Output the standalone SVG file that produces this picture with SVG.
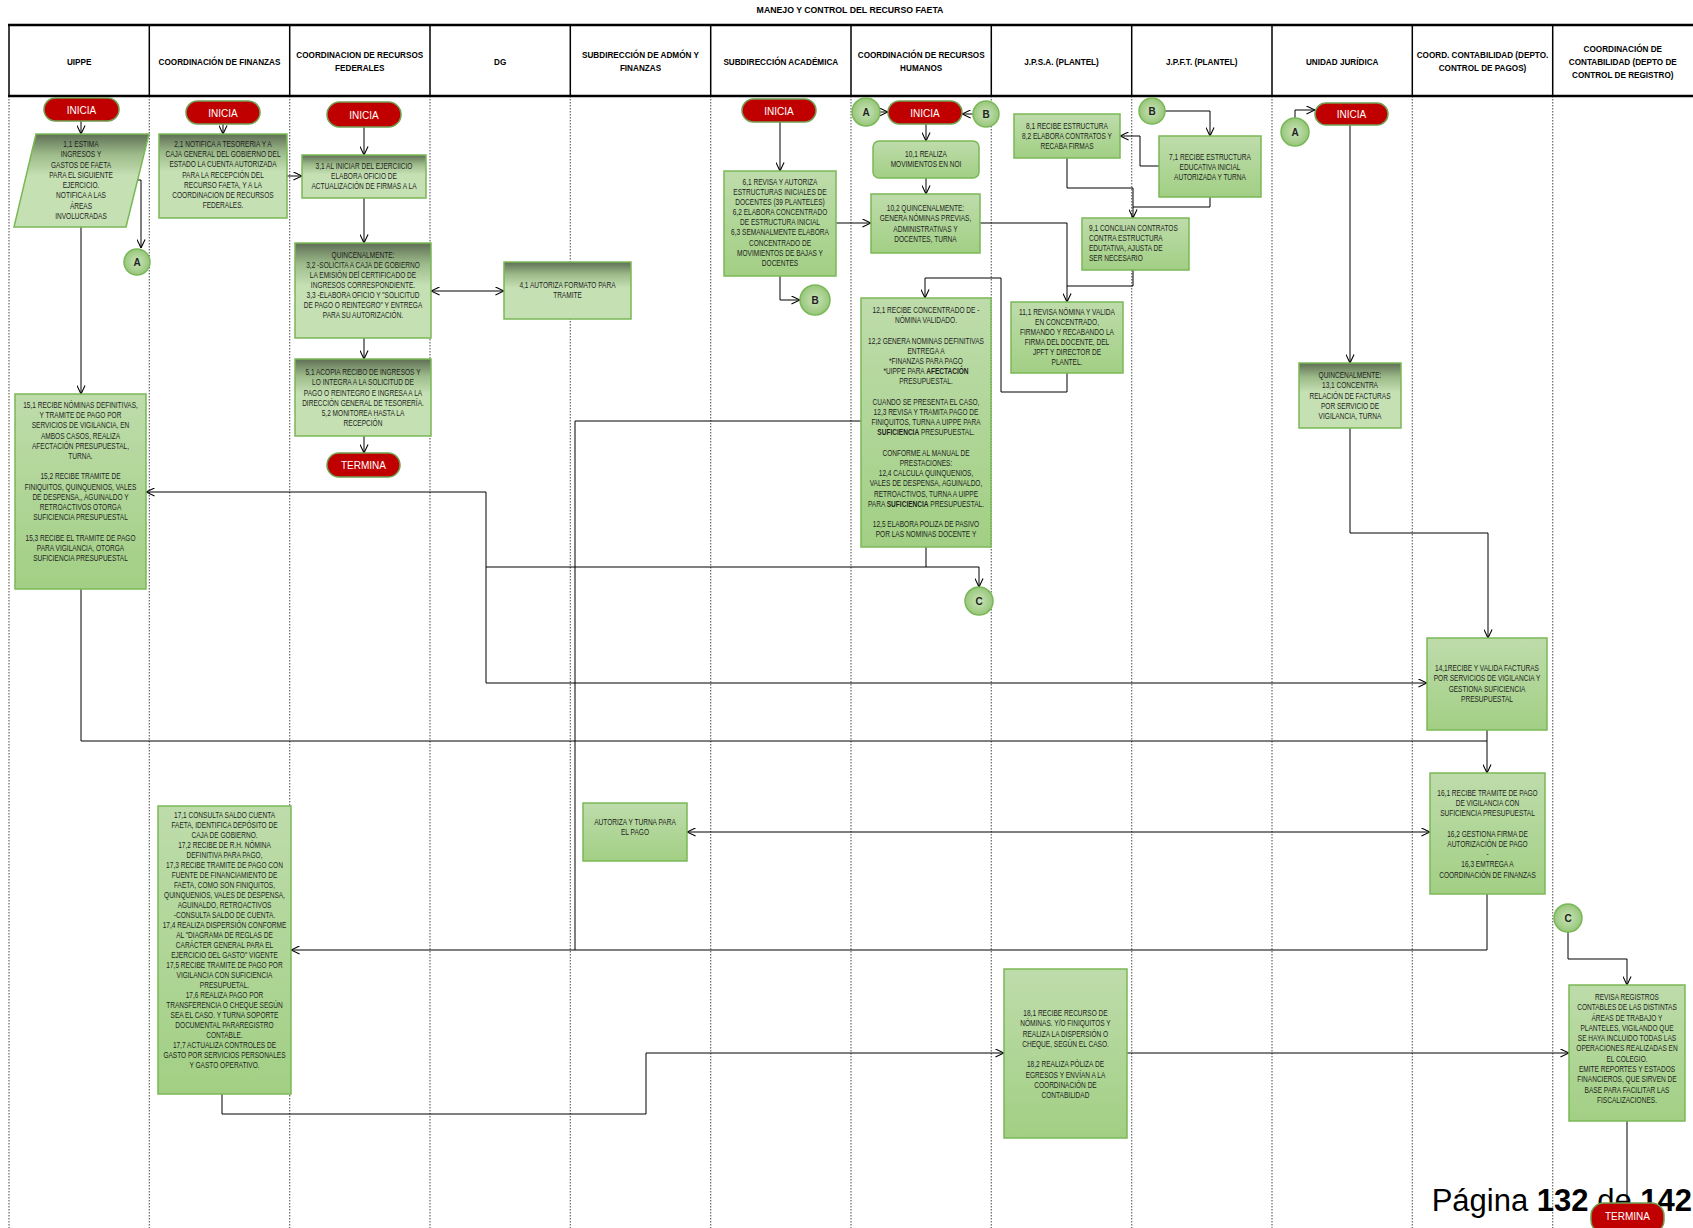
<svg xmlns="http://www.w3.org/2000/svg" width="1693" height="1228" viewBox="0 0 1693 1228">
<defs>
<linearGradient id="gD" x1="0" y1="0" x2="0" y2="1"><stop offset="0" stop-color="#5f6f55"/><stop offset="0.22" stop-color="#9dbb8a"/><stop offset="0.45" stop-color="#c5e0b3"/><stop offset="1" stop-color="#c5e0b3"/></linearGradient>
<linearGradient id="gL" x1="0" y1="0" x2="0" y2="1"><stop offset="0" stop-color="#bedcab"/><stop offset="1" stop-color="#a2cf84"/></linearGradient>
<radialGradient id="gC"><stop offset="0" stop-color="#c9e4b8"/><stop offset="1" stop-color="#98c67b"/></radialGradient>
<marker id="ar" viewBox="0 0 10 10" refX="9.5" refY="5" markerWidth="9" markerHeight="9" markerUnits="userSpaceOnUse" orient="auto-start-reverse"><path d="M0,0.5 L9.5,5 L0,9.5" fill="none" stroke="#000" stroke-width="1.2"/></marker>
</defs>
<style>
.t{font-family:"Liberation Sans",Arial,sans-serif;font-size:8.5px;fill:#1e1e1e;text-anchor:middle}
.tl{text-anchor:start}
.b{font-weight:bold}
.h{font-family:"Liberation Sans",Arial,sans-serif;font-size:9.5px;font-weight:bold;fill:#000;text-anchor:middle}
.bx{fill:url(#gL);stroke:#79b856;stroke-width:1.5}
.bd{fill:url(#gD);stroke:#79b856;stroke-width:1.5}
.tm{fill:#c00000;stroke:#6f9f50;stroke-width:1.5}
.tt{font-family:"Liberation Sans",Arial,sans-serif;font-size:10px;fill:#fff;text-anchor:middle}
.ci{fill:url(#gC);stroke:#79b856;stroke-width:1.5}
.ct{font-family:"Liberation Sans",Arial,sans-serif;font-size:10px;font-weight:bold;fill:#222;text-anchor:middle}
.cn{fill:none;stroke:#000;stroke-width:1}
.ln{stroke:#666;stroke-width:1.2;stroke-dasharray:1.5 1.5}
.hl{stroke:#000;stroke-width:1.5}
</style>
<rect width="1693" height="1228" fill="#fff"/>

<g id="lanes">
<line class="ln" x1="9" y1="96" x2="9" y2="1228"/>
<line class="ln" x1="149.3" y1="96" x2="149.3" y2="1228"/>
<line class="ln" x1="289.7" y1="96" x2="289.7" y2="1228"/>
<line class="ln" x1="430" y1="96" x2="430" y2="1228"/>
<line class="ln" x1="570.3" y1="96" x2="570.3" y2="1228"/>
<line class="ln" x1="710.7" y1="96" x2="710.7" y2="1228"/>
<line class="ln" x1="851" y1="96" x2="851" y2="1228"/>
<line class="ln" x1="991.3" y1="96" x2="991.3" y2="1228"/>
<line class="ln" x1="1131.7" y1="96" x2="1131.7" y2="1228"/>
<line class="ln" x1="1272" y1="96" x2="1272" y2="1228"/>
<line class="ln" x1="1412.3" y1="96" x2="1412.3" y2="1228"/>
<line class="ln" x1="1552.7" y1="96" x2="1552.7" y2="1228"/>
</g>

<g id="header">
<text class="h" x="850" y="13" transform="matrix(0.92 0 0 1 68 0)">MANEJO Y CONTROL DEL RECURSO FAETA</text>
<line x1="8" y1="25" x2="1693" y2="25" stroke="#000" stroke-width="2.5"/>
<line x1="8" y1="96" x2="1693" y2="96" stroke="#000" stroke-width="2.5"/>
<line class="hl" x1="9" y1="25" x2="9" y2="96"/>
<line class="hl" x1="149.3" y1="25" x2="149.3" y2="96"/>
<line class="hl" x1="289.7" y1="25" x2="289.7" y2="96"/>
<line class="hl" x1="430" y1="25" x2="430" y2="96"/>
<line class="hl" x1="570.3" y1="25" x2="570.3" y2="96"/>
<line class="hl" x1="710.7" y1="25" x2="710.7" y2="96"/>
<line class="hl" x1="851" y1="25" x2="851" y2="96"/>
<line class="hl" x1="991.3" y1="25" x2="991.3" y2="96"/>
<line class="hl" x1="1131.7" y1="25" x2="1131.7" y2="96"/>
<line class="hl" x1="1272" y1="25" x2="1272" y2="96"/>
<line class="hl" x1="1412.3" y1="25" x2="1412.3" y2="96"/>
<line class="hl" x1="1552.7" y1="25" x2="1552.7" y2="96"/>
<g transform="matrix(0.86 0 0 1 11.09 0)"><text class="h" x="79.2" y="65">UIPPE</text></g>
<g transform="matrix(0.86 0 0 1 30.73 0)"><text class="h" x="219.5" y="65">COORDINACIÓN DE FINANZAS</text></g>
<g transform="matrix(0.86 0 0 1 50.37 0)"><text class="h" x="359.8" y="58">COORDINACION DE RECURSOS</text><text class="h" x="359.8" y="71">FEDERALES</text></g>
<g transform="matrix(0.86 0 0 1 70.03 0)"><text class="h" x="500.2" y="65">DG</text></g>
<g transform="matrix(0.86 0 0 1 89.67 0)"><text class="h" x="640.5" y="58">SUBDIRECCIÓN DE ADMÓN Y</text><text class="h" x="640.5" y="71">FINANZAS</text></g>
<g transform="matrix(0.86 0 0 1 109.31 0)"><text class="h" x="780.8" y="65">SUBDIRECCIÓN ACADÉMICA</text></g>
<g transform="matrix(0.86 0 0 1 128.97 0)"><text class="h" x="921.2" y="58">COORDINACIÓN DE RECURSOS</text><text class="h" x="921.2" y="71">HUMANOS</text></g>
<g transform="matrix(0.86 0 0 1 148.61 0)"><text class="h" x="1061.5" y="65">J.P.S.A. (PLANTEL)</text></g>
<g transform="matrix(0.86 0 0 1 168.25 0)"><text class="h" x="1201.8" y="65">J.P.F.T. (PLANTEL)</text></g>
<g transform="matrix(0.86 0 0 1 187.91 0)"><text class="h" x="1342.2" y="65">UNIDAD JURÍDICA</text></g>
<g transform="matrix(0.86 0 0 1 207.55 0)"><text class="h" x="1482.5" y="58">COORD. CONTABILIDAD (DEPTO.</text><text class="h" x="1482.5" y="71">CONTROL DE PAGOS)</text></g>
<g transform="matrix(0.86 0 0 1 227.19 0)"><text class="h" x="1622.8" y="52">COORDINACIÓN DE</text><text class="h" x="1622.8" y="65">CONTABILIDAD (DEPTO DE</text><text class="h" x="1622.8" y="78">CONTROL DE REGISTRO)</text></g>
</g>

<text id="pagina" x="1692" y="1211" text-anchor="end" font-family="'Liberation Sans',Arial,sans-serif" font-size="31" fill="#000">Página <tspan font-weight="bold">132</tspan> de <tspan font-weight="bold">142</tspan></text>

<g id="connectors">
<path class="cn" d="M81,121 V134" marker-end="url(#ar)"/>
<path class="cn" d="M137,180 H141 V248" marker-end="url(#ar)"/>
<path class="cn" d="M81,227 V394" marker-end="url(#ar)"/>
<path class="cn" d="M223,124 V134" marker-end="url(#ar)"/>
<path class="cn" d="M287,176 H302" marker-end="url(#ar)"/>
<path class="cn" d="M364,127 V155" marker-end="url(#ar)"/>
<path class="cn" d="M364,198 V243" marker-end="url(#ar)"/>
<path class="cn" d="M364,338 V359" marker-end="url(#ar)"/>
<path class="cn" d="M364,436 V453" marker-end="url(#ar)"/>
<path class="cn" d="M431,291 H504" marker-start="url(#ar)" marker-end="url(#ar)"/>
<path class="cn" d="M780,122 V171" marker-end="url(#ar)"/>
<path class="cn" d="M780,276 V300 H800" marker-end="url(#ar)"/>
<path class="cn" d="M836,223 H871" marker-end="url(#ar)"/>
<path class="cn" d="M880,112 H888" marker-end="url(#ar)"/>
<path class="cn" d="M973,114 H962" marker-end="url(#ar)"/>
<path class="cn" d="M926,124 V141" marker-end="url(#ar)"/>
<path class="cn" d="M926,178 V194" marker-end="url(#ar)"/>
<path class="cn" d="M980,223 H1067 V302" marker-end="url(#ar)"/>
<path class="cn" d="M1133,270 V286 H1067"/>
<path class="cn" d="M1067,158 V188 H1133 V218" marker-end="url(#ar)"/>
<path class="cn" d="M1210,197 V207 H1133"/>
<path class="cn" d="M1159,166 H1140 V136 H1120" marker-end="url(#ar)"/>
<path class="cn" d="M1165,111 H1210 V136" marker-end="url(#ar)"/>
<path class="cn" d="M1067,373 V392 H1001 V278 H925 V298" marker-end="url(#ar)"/>
<path class="cn" d="M861,421 H575 V950"/>
<path class="cn" d="M926,547 V567 H486 V492 H146" marker-end="url(#ar)"/>
<path class="cn" d="M486,567 V683 H1427" marker-end="url(#ar)"/>
<path class="cn" d="M926,567 H979 V587" marker-end="url(#ar)"/>
<path class="cn" d="M1295,118 V110 H1315" marker-end="url(#ar)"/>
<path class="cn" d="M1350,125 V363" marker-end="url(#ar)"/>
<path class="cn" d="M1350,428 V533 H1488 V638" marker-end="url(#ar)"/>
<path class="cn" d="M81,589 V741 H1487"/>
<path class="cn" d="M1487,730 V773" marker-end="url(#ar)"/>
<path class="cn" d="M687,832 H1430" marker-start="url(#ar)" marker-end="url(#ar)"/>
<path class="cn" d="M1487,894 V950 H291" marker-end="url(#ar)"/>
<path class="cn" d="M222,1094 V1114 H646 V1053 H1004" marker-end="url(#ar)"/>
<path class="cn" d="M1127,1053 H1569" marker-end="url(#ar)"/>
<path class="cn" d="M1568,932 V959 H1627 V985" marker-end="url(#ar)"/>
<path class="cn" d="M1627,1121 V1203"/>
<path d="M1483,722 L1487,729 L1491,722" fill="none" stroke="#4472c4" stroke-width="1"/>
</g>

<g id="n-inicia-uippe"><rect class="tm" x="44" y="98" width="75" height="23" rx="11.5"/><text class="tt" x="81.5" y="113.5">INICIA</text></g>
<g id="n-1-1"><polygon class="bd" points="36,134 149,134 126,227 14,227"/>
<text class="t" y="147" transform="matrix(0.77 0 0 1 18.63 0)"><tspan x="81" dy="0">1,1 ESTIMA</tspan><tspan x="81" dy="10.3">INGRESOS Y</tspan><tspan x="81" dy="10.3">GASTOS DE FAETA</tspan><tspan x="81" dy="10.3">PARA EL SIGUIENTE</tspan><tspan x="81" dy="10.3">EJERCICIO.</tspan><tspan x="81" dy="10.3">NOTIFICA A LAS</tspan><tspan x="81" dy="10.3">ÁREAS</tspan><tspan x="81" dy="10.3">INVOLUCRADAS</tspan></text></g>
<g id="c-a-uippe"><circle class="ci" cx="137" cy="262" r="13"/><text class="ct" x="137" y="265.5">A</text></g>
<g id="n-15-1"><rect class="bx" x="15" y="394" width="131" height="195"/>
<text class="t" y="408" transform="matrix(0.77 0 0 1 18.515 0)"><tspan x="80.5" dy="0">15,1 RECIBE NÓMINAS DEFINITIVAS,</tspan><tspan x="80.5" dy="10.2">Y TRAMITE DE PAGO POR</tspan><tspan x="80.5" dy="10.2">SERVICIOS DE VIGILANCIA, EN</tspan><tspan x="80.5" dy="10.2">AMBOS CASOS, REALIZA</tspan><tspan x="80.5" dy="10.2">AFECTACIÓN PRESUPUESTAL,</tspan><tspan x="80.5" dy="10.2">TURNA.</tspan><tspan x="80.5" dy="20.4">15,2 RECIBE TRAMITE DE</tspan><tspan x="80.5" dy="10.2">FINIQUITOS, QUINQUENIOS, VALES</tspan><tspan x="80.5" dy="10.2">DE DESPENSA,, AGUINALDO Y</tspan><tspan x="80.5" dy="10.2">RETROACTIVOS OTORGA</tspan><tspan x="80.5" dy="10.2">SUFICIENCIA PRESUPUESTAL</tspan><tspan x="80.5" dy="20.4">15,3 RECIBE EL TRAMITE DE PAGO</tspan><tspan x="80.5" dy="10.2">PARA VIGILANCIA, OTORGA</tspan><tspan x="80.5" dy="10.2">SUFICIENCIA PRESUPUESTAL</tspan></text></g>

<g id="n-inicia-finanzas"><rect class="tm" x="186" y="101" width="74" height="23" rx="11.5"/><text class="tt" x="223" y="116.5">INICIA</text></g>
<g id="n-2-1"><rect class="bd" x="159" y="134" width="128" height="84"/>
<text class="t" y="147" transform="matrix(0.77 0 0 1 51.29 0)"><tspan x="223" dy="0">2,1 NOTIFICA A TESORERIA Y A</tspan><tspan x="223" dy="10.2">CAJA GENERAL DEL GOBIERNO DEL</tspan><tspan x="223" dy="10.2">ESTADO  LA CUENTA AUTORIZADA</tspan><tspan x="223" dy="10.2">PARA LA RECEPCIÓN DEL</tspan><tspan x="223" dy="10.2">RECURSO FAETA, Y A LA</tspan><tspan x="223" dy="10.2">COORDINACION DE RECURSOS</tspan><tspan x="223" dy="10.2">FEDERALES.</tspan></text></g>
<g id="n-17-1"><rect class="bx" x="158" y="806" width="133" height="288"/>
<text class="t" y="818" transform="matrix(0.77 0 0 1 51.635 0)"><tspan x="224.5" dy="0">17,1 CONSULTA SALDO CUENTA</tspan><tspan x="224.5" dy="10">FAETA, IDENTIFICA  DEPÓSITO DE</tspan><tspan x="224.5" dy="10">CAJA DE GOBIERNO.</tspan><tspan x="224.5" dy="10">17,2 RECIBE  DE R.H. NÓMINA</tspan><tspan x="224.5" dy="10">DEFINITIVA PARA PAGO,</tspan><tspan x="224.5" dy="10">17,3 RECIBE TRAMITE DE PAGO CON</tspan><tspan x="224.5" dy="10">FUENTE DE FINANCIAMIENTO DE</tspan><tspan x="224.5" dy="10">FAETA, COMO SON FINIQUITOS,</tspan><tspan x="224.5" dy="10">QUINQUENIOS, VALES DE DESPENSA,</tspan><tspan x="224.5" dy="10">AGUINALDO, RETROACTIVOS</tspan><tspan x="224.5" dy="10">-CONSULTA SALDO DE CUENTA.</tspan><tspan x="224.5" dy="10">17,4 REALIZA DISPERSIÓN CONFORME</tspan><tspan x="224.5" dy="10">AL "DIAGRAMA DE  REGLAS DE</tspan><tspan x="224.5" dy="10">CARÁCTER GENERAL PARA EL</tspan><tspan x="224.5" dy="10">EJERCICIO DEL GASTO" VIGENTE</tspan><tspan x="224.5" dy="10">17,5 RECIBE TRAMITE DE PAGO POR</tspan><tspan x="224.5" dy="10">VIGILANCIA CON SUFICIENCIA</tspan><tspan x="224.5" dy="10">PRESUPUETAL.</tspan><tspan x="224.5" dy="10">17,6 REALIZA PAGO  POR</tspan><tspan x="224.5" dy="10">TRANSFERENCIA O CHEQUE SEGÚN</tspan><tspan x="224.5" dy="10">SEA EL CASO. Y TURNA SOPORTE</tspan><tspan x="224.5" dy="10">DOCUMENTAL PARAREGISTRO</tspan><tspan x="224.5" dy="10">CONTABLE.</tspan><tspan x="224.5" dy="10">17,7 ACTUALIZA CONTROLES DE</tspan><tspan x="224.5" dy="10">GASTO POR SERVICIOS PERSONALES</tspan><tspan x="224.5" dy="10">Y GASTO OPERATIVO.</tspan></text></g>

<g id="n-inicia-rf"><rect class="tm" x="327" y="102" width="74" height="25" rx="12.5"/><text class="tt" x="364" y="118.5">INICIA</text></g>
<g id="n-3-1"><rect class="bd" x="302" y="155" width="124" height="43"/>
<text class="t" y="169" transform="matrix(0.77 0 0 1 83.72 0)"><tspan x="364" dy="0">3,1 AL INICIAR DEL EJERCIICIO</tspan><tspan x="364" dy="10">ELABORA OFICIO DE</tspan><tspan x="364" dy="10">ACTUALIZACIÓN DE FIRMAS A LA</tspan></text></g>
<g id="n-3-2"><rect class="bd" x="295" y="243" width="136" height="95"/>
<text class="t" y="258" transform="matrix(0.77 0 0 1 83.49 0)"><tspan x="363" dy="0">QUINCENALMENTE:</tspan><tspan x="363" dy="10">3,2 -SOLICITA A CAJA DE GOBIERNO</tspan><tspan x="363" dy="10">LA EMISIÓN DEl CERTIFICADO DE</tspan><tspan x="363" dy="10">INGRESOS CORRESPONDIENTE.</tspan><tspan x="363" dy="10">3,3 -ELABORA OFICIO Y "SOLICITUD</tspan><tspan x="363" dy="10">DE PAGO O REINTEGRO" Y ENTREGA</tspan><tspan x="363" dy="10">PARA SU AUTORIZACIÓN.</tspan></text></g>
<g id="n-5-1"><rect class="bd" x="295" y="359" width="136" height="77"/>
<text class="t" y="375" transform="matrix(0.77 0 0 1 83.49 0)"><tspan x="363" dy="0">5,1 ACOPIA RECIBO DE INGRESOS Y</tspan><tspan x="363" dy="10.3">LO INTEGRA A LA SOLICITUD DE</tspan><tspan x="363" dy="10.3">PAGO O REINTEGRO E INGRESA A LA</tspan><tspan x="363" dy="10.3">DIRECCIÓN GENERAL DE TESORERÍA.</tspan><tspan x="363" dy="10.3">5,2 MONITOREA HASTA LA</tspan><tspan x="363" dy="10.3">RECEPCIÓN</tspan></text></g>
<g id="n-termina-rf"><rect class="tm" x="327" y="453" width="73" height="24" rx="12"/><text class="tt" x="363.5" y="469">TERMINA</text></g>

<g id="n-4-1"><rect class="bd" x="504" y="262" width="127" height="57"/>
<text class="t" y="288" transform="matrix(0.77 0 0 1 130.525 0)"><tspan x="567.5" dy="0">4,1 AUTORIZA FORMATO PARA</tspan><tspan x="567.5" dy="10">TRAMITE</tspan></text></g>

<g id="n-autoriza"><rect class="bx" x="583" y="803" width="104" height="58"/>
<text class="t" y="825" transform="matrix(0.77 0 0 1 146.05 0)"><tspan x="635" dy="0">AUTORIZA Y TURNA PARA</tspan><tspan x="635" dy="10">EL PAGO</tspan></text></g>

<g id="n-inicia-acad"><rect class="tm" x="742" y="99" width="74" height="23" rx="11.5"/><text class="tt" x="779" y="114.5">INICIA</text></g>
<g id="n-6-1"><rect class="bx" x="724" y="171" width="112" height="105"/>
<text class="t" y="185" transform="matrix(0.77 0 0 1 179.4 0)"><tspan x="780" dy="0">6,1 REVISA Y AUTORIZA</tspan><tspan x="780" dy="10.1">ESTRUCTURAS INICIALES DE</tspan><tspan x="780" dy="10.1">DOCENTES (39 PLANTELES)</tspan><tspan x="780" dy="10.1">6,2 ELABORA CONCENTRADO</tspan><tspan x="780" dy="10.1">DE ESTRUCTURA INICIAL</tspan><tspan x="780" dy="10.1">6,3 SEMANALMENTE ELABORA</tspan><tspan x="780" dy="10.1">CONCENTRADO DE</tspan><tspan x="780" dy="10.1">MOVIMIENTOS DE BAJAS Y</tspan><tspan x="780" dy="10.1">DOCENTES</tspan></text></g>
<g id="c-b-acad"><circle class="ci" cx="815" cy="300" r="15"/><text class="ct" x="815" y="303.5">B</text></g>

<g id="c-a-rh"><circle class="ci" cx="866" cy="112" r="14"/><text class="ct" x="866" y="115.5">A</text></g>
<g id="n-inicia-rh"><rect class="tm" x="888" y="101" width="74" height="23" rx="11.5"/><text class="tt" x="925" y="116.5">INICIA</text></g>
<g id="c-b-rh"><circle class="ci" cx="986" cy="114" r="13"/><text class="ct" x="986" y="117.5">B</text></g>
<g id="n-10-1"><rect class="bx" x="873" y="141" width="106" height="37" rx="6"/>
<text class="t" y="157" transform="matrix(0.77 0 0 1 212.98 0)"><tspan x="926" dy="0">10,1 REALIZA</tspan><tspan x="926" dy="10">MOVIMIENTOS EN  NOI</tspan></text></g>
<g id="n-10-2"><rect class="bx" x="871" y="194" width="109" height="59"/>
<text class="t" y="211" transform="matrix(0.77 0 0 1 212.865 0)"><tspan x="925.5" dy="0">10,2 QUINCENALMENTE:</tspan><tspan x="925.5" dy="10.3">GENERA NÓMINAS PREVIAS,</tspan><tspan x="925.5" dy="10.3">ADMINISTRATIVAS Y</tspan><tspan x="925.5" dy="10.3">DOCENTES, TURNA</tspan></text></g>
<g id="n-12-1"><rect class="bx" x="861" y="298" width="130" height="249"/>
<text class="t" y="313" transform="matrix(0.77 0 0 1 212.98 0)"><tspan x="926" dy="0">12,1 RECIBE CONCENTRADO DE -</tspan><tspan x="926" dy="10.2">NÓMINA VALIDADO.</tspan><tspan x="926" dy="20.4">12,2 GENERA NOMINAS DEFINITIVAS</tspan><tspan x="926" dy="10.2">ENTREGA A</tspan><tspan x="926" dy="10.2">*FINANZAS PARA PAGO</tspan><tspan x="926" dy="10.2">*UIPPE PARA <tspan class="b">AFECTACIÓN</tspan></tspan><tspan x="926" dy="10.2">PRESUPUESTAL.</tspan><tspan x="926" dy="20.4">CUANDO SE PRESENTA EL CASO,</tspan><tspan x="926" dy="10.2">12,3 REVISA Y  TRAMITA PAGO DE</tspan><tspan x="926" dy="10.2">FINIQUITOS, TURNA A UIPPE PARA</tspan><tspan x="926" dy="10.2"><tspan class="b">SUFICIENCIA</tspan> PRESUPUESTAL.</tspan><tspan x="926" dy="20.4">CONFORME AL MANUAL DE</tspan><tspan x="926" dy="10.2">PRESTACIONES:</tspan><tspan x="926" dy="10.2">12,4  CALCULA QUINQUENIOS,</tspan><tspan x="926" dy="10.2">VALES DE DESPENSA, AGUINALDO,</tspan><tspan x="926" dy="10.2">RETROACTIVOS, TURNA A UIPPE</tspan><tspan x="926" dy="10.2">PARA <tspan class="b">SUFICIENCIA</tspan> PRESUPUESTAL.</tspan><tspan x="926" dy="20.4">12,5 ELABORA POLIZA DE PASIVO</tspan><tspan x="926" dy="10.2">POR LAS NOMINAS DOCENTE Y</tspan></text></g>
<g id="c-c-rh"><circle class="ci" cx="979" cy="601" r="14"/><text class="ct" x="979" y="604.5">C</text></g>

<g id="n-8-1"><rect class="bx" x="1014" y="114" width="106" height="44"/>
<text class="t" y="129" transform="matrix(0.77 0 0 1 245.41 0)"><tspan x="1067" dy="0">8,1 RECIBE ESTRUCTURA</tspan><tspan x="1067" dy="10">8,2 ELABORA CONTRATOS Y</tspan><tspan x="1067" dy="10">RECABA FIRMAS</tspan></text></g>
<g id="n-11-1"><rect class="bx" x="1011" y="302" width="112" height="71"/>
<text class="t" y="315" transform="matrix(0.77 0 0 1 245.41 0)"><tspan x="1067" dy="0">11,1 REVISA NÓMINA Y VALIDA</tspan><tspan x="1067" dy="10">EN CONCENTRADO,</tspan><tspan x="1067" dy="10">FIRMANDO Y RECABANDO LA</tspan><tspan x="1067" dy="10">FIRMA DEL DOCENTE, DEL</tspan><tspan x="1067" dy="10">JPFT Y DIRECTOR DE</tspan><tspan x="1067" dy="10">PLANTEL.</tspan></text></g>
<g id="n-18-1"><rect class="bx" x="1004" y="969" width="123" height="169"/>
<text class="t" y="1016" transform="matrix(0.77 0 0 1 245.065 0)"><tspan x="1065.5" dy="0">18,1 RECIBE RECURSO DE</tspan><tspan x="1065.5" dy="10.3">NÓMINAS. Y/O FINIQUITOS Y</tspan><tspan x="1065.5" dy="10.3">REALIZA LA DISPERSIÓN O</tspan><tspan x="1065.5" dy="10.3">CHEQUE, SEGÚN EL CASO.</tspan><tspan x="1065.5" dy="20.6">18,2 REALIZA PÓLIZA DE</tspan><tspan x="1065.5" dy="10.3">EGRESOS Y ENVÍAN A LA</tspan><tspan x="1065.5" dy="10.3">COORDINACIÓN DE</tspan><tspan x="1065.5" dy="10.3">CONTABILIDAD</tspan></text></g>

<g id="c-b-jpft"><circle class="ci" cx="1152" cy="111" r="13"/><text class="ct" x="1152" y="114.5">B</text></g>
<g id="n-7-1"><rect class="bx" x="1159" y="136" width="102" height="61"/>
<text class="t" y="160" transform="matrix(0.77 0 0 1 278.3 0)"><tspan x="1210" dy="0">7,1 RECIBE ESTRUCTURA</tspan><tspan x="1210" dy="10">EDUCATIVA INICIAL</tspan><tspan x="1210" dy="10">AUTORIZADA Y TURNA</tspan></text></g>
<g id="n-9-1"><rect class="bx" x="1082" y="218" width="107" height="52"/>
<text class="t tl" y="231" transform="matrix(0.77 0 0 1 250.47 0)"><tspan x="1089" dy="0">9,1 CONCILIAN CONTRATOS</tspan><tspan x="1089" dy="10">CONTRA ESTRUCTURA</tspan><tspan x="1089" dy="10">EDUTATIVA, AJUSTA DE</tspan><tspan x="1089" dy="10">SER NECESARIO</tspan></text></g>

<g id="c-a-uj"><circle class="ci" cx="1295" cy="132" r="14"/><text class="ct" x="1295" y="135.5">A</text></g>
<g id="n-inicia-uj"><rect class="tm" x="1315" y="103" width="73" height="22" rx="11"/><text class="tt" x="1351.5" y="118">INICIA</text></g>
<g id="n-13-1"><rect class="bd" x="1299" y="363" width="102" height="65"/>
<text class="t" y="378" transform="matrix(0.77 0 0 1 310.5 0)"><tspan x="1350" dy="0">QUINCENALMENTE:</tspan><tspan x="1350" dy="10.3">13,1 CONCENTRA</tspan><tspan x="1350" dy="10.3">RELACIÓN DE FACTURAS</tspan><tspan x="1350" dy="10.3">POR SERVICIO DE</tspan><tspan x="1350" dy="10.3">VIGILANCIA, TURNA</tspan></text></g>

<g id="n-14-1"><rect class="bx" x="1427" y="638" width="120" height="92"/>
<text class="t" y="671" transform="matrix(0.77 0 0 1 342.01 0)"><tspan x="1487" dy="0">14,1RECIBE Y VALIDA FACTURAS</tspan><tspan x="1487" dy="10.3">POR SERVICIOS DE VIGILANCIA Y</tspan><tspan x="1487" dy="10.3">GESTIONA SUFICIENCIA</tspan><tspan x="1487" dy="10.3">PRESUPUESTAL</tspan></text></g>
<g id="n-16-1"><rect class="bx" x="1430" y="773" width="115" height="121"/>
<text class="t" y="796" transform="matrix(0.77 0 0 1 342.125 0)"><tspan x="1487.5" dy="0">16,1 RECIBE TRAMITE DE PAGO</tspan><tspan x="1487.5" dy="10.2">DE VIGILANCIA CON</tspan><tspan x="1487.5" dy="10.2">SUFICIENCIA PRESUPUESTAL</tspan><tspan x="1487.5" dy="20.4">16,2 GESTIONA FIRMA DE</tspan><tspan x="1487.5" dy="10.2">AUTORIZACIÓN DE PAGO</tspan><tspan x="1487.5" dy="10.2">-</tspan><tspan x="1487.5" dy="10.2">16,3 EMTREGA A</tspan><tspan x="1487.5" dy="10.2">COORDINACIÓN DE FINANZAS</tspan></text></g>

<g id="c-c-reg"><circle class="ci" cx="1568" cy="918" r="14"/><text class="ct" x="1568" y="921.5">C</text></g>
<g id="n-final"><rect class="bx" x="1569" y="985" width="116" height="136"/>
<text class="t" y="1000" transform="matrix(0.77 0 0 1 374.21 0)"><tspan x="1627" dy="0">REVISA REGISTROS</tspan><tspan x="1627" dy="10.3">CONTABLES DE  LAS DISTINTAS</tspan><tspan x="1627" dy="10.3">ÁREAS DE TRABAJO Y</tspan><tspan x="1627" dy="10.3">PLANTELES, VIGILANDO QUE</tspan><tspan x="1627" dy="10.3">SE HAYA INCLUIDO TODAS LAS</tspan><tspan x="1627" dy="10.3">OPERACIONES REALIZADAS EN</tspan><tspan x="1627" dy="10.3">EL COLEGIO.</tspan><tspan x="1627" dy="10.3">EMITE REPORTES Y ESTADOS</tspan><tspan x="1627" dy="10.3">FINANCIEROS, QUE SIRVEN DE</tspan><tspan x="1627" dy="10.3">BASE PARA FACILITAR  LAS</tspan><tspan x="1627" dy="10.3">FISCALIZACIONES.</tspan></text></g>
<g id="n-termina-final"><rect class="tm" x="1591" y="1203" width="73" height="30" rx="12.5"/><text class="tt" x="1627.5" y="1220">TERMINA</text></g>
</svg>
